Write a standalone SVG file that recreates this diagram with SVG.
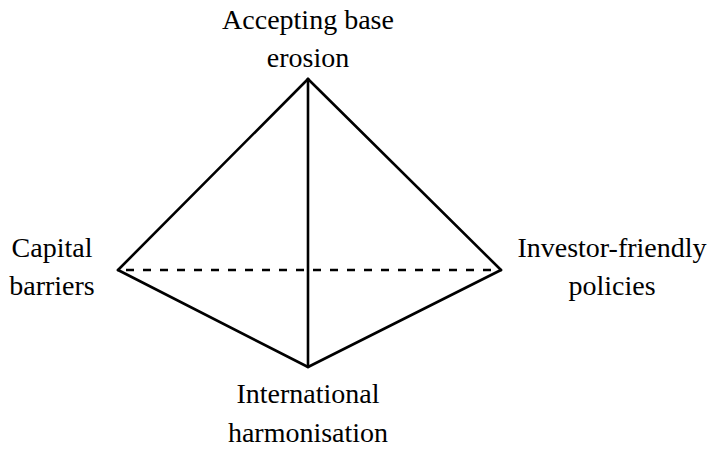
<svg xmlns="http://www.w3.org/2000/svg" width="709" height="449" viewBox="0 0 709 449">
  <style>
    .edge { stroke: #000; stroke-width: 2.6; fill: none; stroke-linecap: round; stroke-linejoin: round; }
    .hidden { stroke-dasharray: 8 9; stroke-linecap: butt; }
    .label { font-family: "Liberation Serif", "DejaVu Serif", serif; font-size: 28px; fill: #000; text-anchor: middle; }
  </style>
  <rect width="709" height="449" fill="#fff"/>
  <!-- tetrahedron edges -->
  <g id="connectors">
    <line class="edge" x1="308" y1="79" x2="118" y2="270"/>
    <line class="edge" x1="308" y1="79" x2="501" y2="270"/>
    <line class="edge" x1="308" y1="79" x2="308" y2="367"/>
    <line class="edge" x1="118" y1="270" x2="308" y2="367"/>
    <line class="edge" x1="501" y1="270" x2="308" y2="367"/>
    <line class="edge hidden" x1="126" y1="270" x2="496" y2="270"/>
  </g>
  <g id="node-top">
    <text class="label" x="308" y="29">Accepting base</text>
    <text class="label" x="308" y="67">erosion</text>
  </g>
  <g id="node-left">
    <text class="label" x="52" y="257">Capital</text>
    <text class="label" x="52" y="295">barriers</text>
  </g>
  <g id="node-right">
    <text class="label" x="612" y="257">Investor-friendly</text>
    <text class="label" x="612" y="295">policies</text>
  </g>
  <g id="node-bottom">
    <text class="label" x="308" y="403">International</text>
    <text class="label" x="308" y="442">harmonisation</text>
  </g>
</svg>
